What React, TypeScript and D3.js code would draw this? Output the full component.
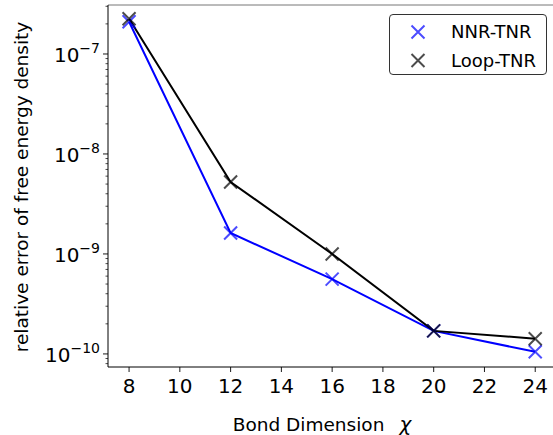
import React, { useRef, useEffect } from 'react';
import * as d3 from 'd3';

// bond dimensions
const chi = [8, 12, 16, 20, 24];
// relative error of free energy density
const nnrTnr = [2.1e-7, 1.62e-9, 5.6e-10, 1.7e-10, 1.05e-10];
const loopTnr = [2.25e-7, 5.25e-9, 1.0e-9, 1.7e-10, 1.42e-10];
const xTicks = [8, 10, 12, 14, 16, 18, 20, 22, 24];
const yExponents = [-7, -8, -9, -10];

const App = () => {
    const svgRef = useRef(null);

    useEffect(() => {
        const width = 553;
        const height = 435;
        const left = 108, top = 5, bottom = 367, right = 553;

        const svg = d3.select(svgRef.current);
        svg.selectAll('*').remove();
        svg.attr('width', width).attr('height', height)
            .style('font-family', '"DejaVu Sans", sans-serif');

        const x = d3.scaleLinear().domain([7.17, 24.7]).range([left, right]);
        const y = d3.scaleLog().domain([7.4e-11, 3.09e-7]).range([bottom, top]);

        // minor ticks on y
        const minor = [];
        for (let e = -11; e <= -7; e++) {
            for (let m = 2; m <= 9; m++) {
                const v = m * Math.pow(10, e);
                if (v >= y.domain()[0] && v <= y.domain()[1]) minor.push(v);
            }
        }
        svg.append('g').selectAll('line').data(minor).enter().append('line')
            .attr('x1', left - 2.5).attr('x2', left)
            .attr('y1', d => y(d)).attr('y2', d => y(d))
            .attr('stroke', '#000').attr('stroke-width', 0.7);

        // major y ticks and labels
        const yg = svg.append('g').selectAll('g').data(yExponents).enter().append('g');
        yg.append('line')
            .attr('x1', left - 5).attr('x2', left)
            .attr('y1', d => y(Math.pow(10, d))).attr('y2', d => y(Math.pow(10, d)))
            .attr('stroke', '#000').attr('stroke-width', 0.9);
        yg.append('text')
            .attr('x', 100)
            .attr('y', d => y(Math.pow(10, d)) + 8)
            .attr('text-anchor', 'end')
            .style('font-size', '20px')
            .each(function (d) {
                const t = d3.select(this);
                t.append('tspan').text('10');
                t.append('tspan').attr('dy', -9).style('font-size', '14px').text('\u2212' + Math.abs(d));
            });

        // x ticks
        const xg = svg.append('g').selectAll('g').data(xTicks).enter().append('g');
        xg.append('line')
            .attr('x1', d => x(d)).attr('x2', d => x(d))
            .attr('y1', bottom).attr('y2', bottom + 5)
            .attr('stroke', '#000').attr('stroke-width', 0.9);
        xg.append('text')
            .attr('x', d => x(d)).attr('y', 393)
            .attr('text-anchor', 'middle')
            .style('font-size', '20px')
            .text(d => d);

        // spines
        svg.append('line').attr('x1', left).attr('x2', right).attr('y1', top).attr('y2', top)
            .attr('stroke', '#777').attr('stroke-width', 1);
        svg.append('line').attr('x1', left).attr('x2', left).attr('y1', top).attr('y2', bottom)
            .attr('stroke', '#000').attr('stroke-width', 1);
        svg.append('line').attr('x1', left).attr('x2', right).attr('y1', bottom).attr('y2', bottom)
            .attr('stroke', '#000').attr('stroke-width', 1);

        // axis labels
        const xl = svg.append('text')
            .attr('x', 322).attr('y', 431)
            .attr('text-anchor', 'middle')
            .style('font-size', '18.5px');
        xl.append('tspan').text('Bond Dimension');
        xl.append('tspan').attr('dx', 15).style('font-style', 'italic').style('font-size', '20px').text('\u03c7');

        svg.append('text')
            .attr('transform', `translate(28, 187) rotate(-90)`)
            .attr('text-anchor', 'middle')
            .style('font-size', '18.5px')
            .text('relative error of free energy density');

        const line = d3.line().x(d => x(d[0])).y(d => y(d[1]));
        const series = [
            { name: 'NNR-TNR', values: nnrTnr, color: '#0000ff' },
            { name: 'Loop-TNR', values: loopTnr, color: '#000000' },
        ];

        series.forEach(s => {
            svg.append('path')
                .datum(chi.map((c, i) => [c, s.values[i]]))
                .attr('d', line)
                .attr('fill', 'none')
                .attr('stroke', s.color)
                .attr('stroke-width', 2);
        });

        const cross = (g, cx, cy, color) => {
            const r = 6.5;
            g.append('path')
                .attr('d', `M${cx - r},${cy - r}L${cx + r},${cy + r}M${cx - r},${cy + r}L${cx + r},${cy - r}`)
                .attr('stroke', color).attr('stroke-width', 2).attr('stroke-opacity', 0.7)
                .attr('fill', 'none');
        };

        series.forEach(s => {
            const g = svg.append('g');
            chi.forEach((c, i) => cross(g, x(c), y(s.values[i]), s.color));
        });

        // legend
        const lg = svg.append('g');
        lg.append('rect')
            .attr('x', 389.5).attr('y', 14.5).attr('width', 157).attr('height', 60)
            .attr('rx', 3.5)
            .attr('fill', '#fff').attr('fill-opacity', 0.8)
            .attr('stroke', '#333').attr('stroke-width', 1);
        series.forEach((s, i) => {
            const cy = 32 + i * 28.5;
            cross(lg, 418, cy, s.color);
            lg.append('text')
                .attr('x', 451).attr('y', cy + 6)
                .style('font-size', '18px')
                .text(s.name);
        });
    }, []);

    return <svg ref={svgRef} style={{ position: 'absolute', left: 0, top: 0 }}></svg>;
};

export default App;
